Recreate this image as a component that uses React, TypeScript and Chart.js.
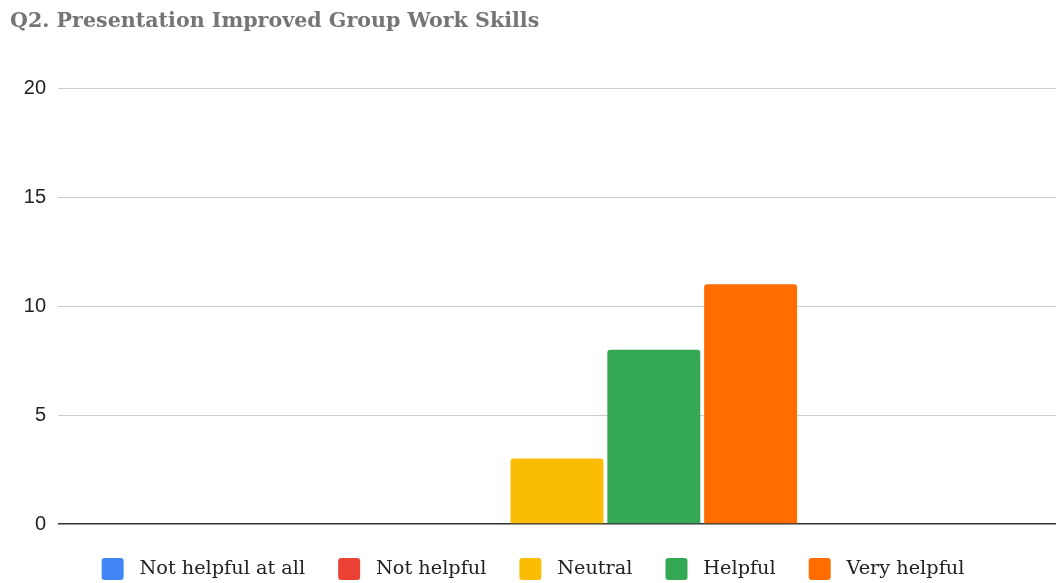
import React, { useEffect, useRef } from "react";
import { Chart, registerables } from "chart.js";

Chart.register(...registerables);

const titleText = "Q2. Presentation Improved Group Work Skills";
const categories = [""];
const seriesLabels = ["Not helpful at all", "Not helpful", "Neutral", "Helpful", "Very helpful"];
const seriesValues = [0, 0, 3, 8, 11];
const seriesColors = ["#4285F4", "#EA4335", "#FBBC04", "#34A853", "#FF6D01"];
const yMin = 0;
const yMax = 20;
const yStep = 5;

export default function App() {
  const canvasRef = useRef<HTMLCanvasElement | null>(null);

  useEffect(() => {
    const canvas = canvasRef.current;
    if (!canvas) return;
    const chart = new Chart(canvas, {
      type: "bar",
      data: {
        labels: categories,
        datasets: seriesLabels.map((label, i) => ({
          label,
          data: [seriesValues[i]],
          backgroundColor: seriesColors[i],
          borderWidth: 0,
          borderRadius: 3,
          categoryPercentage: 0.485,
          barPercentage: 0.96,
        })),
      },
      options: {
        animation: false,
        responsive: true,
        maintainAspectRatio: false,
        layout: { padding: { left: 10, right: 0, top: 0, bottom: 0 } },
        plugins: {
          title: {
            display: true,
            text: titleText,
            align: "start",
            color: "#757575",
            font: { family: "'DejaVu Serif', serif", size: 20.6, weight: "bold" },
            padding: { top: 9, bottom: 54.4 },
          },
          legend: {
            position: "bottom",
            labels: {
              color: "#222222",
              font: { family: "'DejaVu Serif', serif", size: 19.3 },
              boxWidth: 22,
              boxHeight: 22,
              padding: 33,
              useBorderRadius: true,
              borderRadius: 3,
              generateLabels: (c: any) =>
                Chart.defaults.plugins.legend.labels
                  .generateLabels(c)
                  .map((it: any) => ({ ...it, text: " " + it.text, lineWidth: 0 })),
            },
          },
          tooltip: { enabled: false },
        },
        scales: {
          x: {
            display: true,
            border: { display: false },
            grid: {
              display: true,
              drawOnChartArea: false,
              drawTicks: true,
              tickLength: 1,
              color: "rgba(0,0,0,0)",
            },
            ticks: { display: false },
          },
          y: {
            min: yMin,
            max: yMax,
            border: { display: false },
            grid: {
              drawTicks: false,
              color: (ctx: any) => (ctx.tick && ctx.tick.value === 0 ? "#333333" : "#cccccc"),
              lineWidth: (ctx: any) => (ctx.tick && ctx.tick.value === 0 ? 1.5 : 1),
            },
            ticks: {
              stepSize: yStep,
              padding: 12,
              color: "#222222",
              font: { family: "'Liberation Sans', Arial, sans-serif", size: 20 },
            },
            afterFit: (scale: any) => {
              scale.width = 48;
            },
          },
        },
      },
    });
    return () => chart.destroy();
  }, []);

  return (
    <div
      style={{
        position: "fixed",
        left: 0,
        top: 0,
        width: 1056,
        height: 583,
        overflow: "hidden",
        background: "#ffffff",
      }}
    >
      <div style={{ position: "relative", width: 1056, height: 590 }}>
        <canvas ref={canvasRef} />
      </div>
    </div>
  );
}
